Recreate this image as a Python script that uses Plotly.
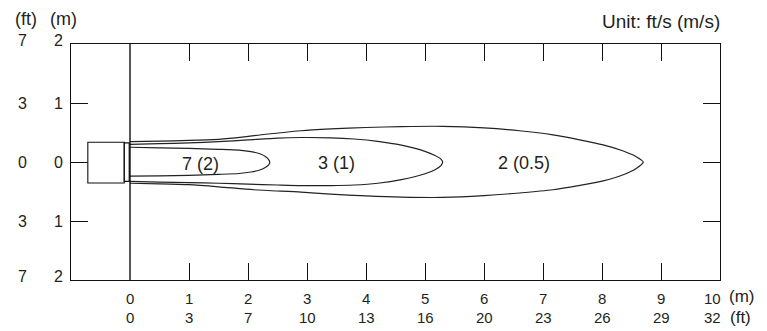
import plotly.graph_objects as go

# ---------------- data ----------------
# horizontal distance ticks (m) and their ft equivalents
x_m_ticks = [0, 1, 2, 3, 4, 5, 6, 7, 8, 9, 10]
x_ft_labels = ["0", "3", "7", "10", "13", "16", "20", "23", "26", "29", "32"]
# vertical distance ticks (m) and labels
y_m_ticks = [2, 1, 0, -1, -2]
y_m_labels = ["2", "1", "0", "1", "2"]
y_ft_labels = ["7", "3", "0", "3", "7"]

# air-velocity contours (x in m, y in m): upper edge and lower edge
c7_upper_x = [0.0, 0.5, 1.0, 1.5, 1.85, 2.05, 2.2, 2.3, 2.35, 2.37]
c7_upper_y = [0.25, 0.24, 0.23, 0.215, 0.20, 0.175, 0.14, 0.09, 0.04, -0.01]
c7_lower_x = [0.0, 0.5, 1.0, 1.5, 1.85, 2.05, 2.2, 2.3, 2.35]
c7_lower_y = [-0.24, -0.235, -0.225, -0.21, -0.195, -0.17, -0.135, -0.09, -0.05]

c3_upper_x = [0.0, 0.5, 1.0, 1.5, 2.0, 2.5, 2.9, 3.4, 3.8, 4.2, 4.6, 5.0, 5.17, 5.27, 5.30]
c3_upper_y = [0.30, 0.31, 0.325, 0.345, 0.375, 0.405, 0.415, 0.41, 0.39, 0.35, 0.285, 0.18, 0.11, 0.05, 0.0]
c3_lower_x = [0.0, 0.5, 1.0, 1.5, 2.0, 2.5, 2.9, 3.4, 3.8, 4.2, 4.6, 5.0, 5.17, 5.27]
c3_lower_y = [-0.33, -0.34, -0.35, -0.36, -0.375, -0.39, -0.40, -0.40, -0.39, -0.36, -0.30, -0.20, -0.13, -0.06]

c2_upper_x = [0.0, 0.5, 1.0, 1.5, 1.9, 2.3, 2.9, 3.4, 4.0, 4.6, 5.3, 6.0, 6.6, 7.17, 7.6, 8.02, 8.35, 8.58, 8.70]
c2_upper_y = [0.345, 0.355, 0.365, 0.385, 0.42, 0.47, 0.53, 0.56, 0.585, 0.60, 0.605, 0.58, 0.53, 0.46, 0.38, 0.29, 0.19, 0.09, 0.0]
c2_lower_x = [0.0, 0.5, 1.0, 1.5, 2.1, 2.9, 3.4, 4.0, 4.6, 5.3, 6.0, 6.6, 7.17, 7.6, 8.02, 8.35, 8.58]
c2_lower_y = [-0.36, -0.37, -0.385, -0.42, -0.47, -0.51, -0.545, -0.575, -0.595, -0.60, -0.57, -0.525, -0.47, -0.40, -0.32, -0.22, -0.11]

contour_labels = ["7 (2)", "3 (1)", "2 (0.5)"]
contour_label_x = [1.2, 3.5, 6.68]
contour_label_y = [-0.03, -0.02, -0.02]

# indoor unit outline (m)
unit_x = [-0.715, -0.097]
unit_y = [-0.355, 0.335]
grille_x = [-0.097, -0.012]
grille_y = [-0.33, 0.325]

# ---------------- figure ----------------
FONT = "Liberation Sans, Arial, Helvetica, sans-serif"
TXT = "#231f20"
LINE = "#222222"

fig = go.Figure()

for ux, uy, lx, ly in [
    (c7_upper_x, c7_upper_y, c7_lower_x, c7_lower_y),
    (c3_upper_x, c3_upper_y, c3_lower_x, c3_lower_y),
    (c2_upper_x, c2_upper_y, c2_lower_x, c2_lower_y),
]:
    xs = list(ux) + list(reversed(lx))
    ys = list(uy) + list(reversed(ly))
    fig.add_trace(go.Scatter(
        x=xs, y=ys, mode="lines",
        line=dict(color=LINE, width=1.2, shape="spline", smoothing=0.7),
        hoverinfo="skip", showlegend=False,
    ))

# wall line at x = 0
fig.add_shape(type="line", x0=0, x1=0, y0=-2, y1=2, xref="x", yref="y",
              line=dict(color="#111", width=1.4))
# indoor unit
fig.add_shape(type="rect", x0=unit_x[0], x1=unit_x[1], y0=unit_y[0], y1=unit_y[1],
              xref="x", yref="y", line=dict(color="#111", width=1.1), fillcolor="white")
fig.add_shape(type="rect", x0=grille_x[0], x1=grille_x[1], y0=grille_y[0], y1=grille_y[1],
              xref="x", yref="y", line=dict(color="#111", width=1.3), fillcolor="white")

# contour labels
for t, lx, ly in zip(contour_labels, contour_label_x, contour_label_y):
    fig.add_annotation(x=lx, y=ly, xref="x", yref="y", text=t, showarrow=False,
                       font=dict(family=FONT, size=18, color=TXT))

# y-axis labels (m column and ft column)
for v, ml, fl in zip(y_m_ticks, y_m_labels, y_ft_labels):
    ys = 4 if abs(v) == 2 else 0
    fig.add_annotation(x=0, y=v, xref="paper", yref="y", text=ml, showarrow=False,
                       xanchor="center", yanchor="middle", xshift=-13, yshift=ys,
                       font=dict(family=FONT, size=16, color=TXT))
    fig.add_annotation(x=0, y=v, xref="paper", yref="y", text=fl, showarrow=False,
                       xanchor="center", yanchor="middle", xshift=-49, yshift=ys,
                       font=dict(family=FONT, size=16, color=TXT))
fig.add_annotation(x=0, y=1, xref="paper", yref="paper", text="(ft)", showarrow=False,
                   xanchor="center", yanchor="middle", xshift=-45, yshift=25,
                   font=dict(family=FONT, size=18, color=TXT))
fig.add_annotation(x=0, y=1, xref="paper", yref="paper", text="(m)", showarrow=False,
                   xanchor="center", yanchor="middle", xshift=-8, yshift=25,
                   font=dict(family=FONT, size=18, color=TXT))

# x-axis labels (m row and ft row)
for v, fl in zip(x_m_ticks, x_ft_labels):
    xs = -8 if v == 10 else 0
    fig.add_annotation(x=v, y=0, xref="x", yref="paper", text=str(v), showarrow=False,
                       xanchor="center", yanchor="middle", xshift=xs, yshift=-18,
                       font=dict(family=FONT, size=15, color=TXT))
    fig.add_annotation(x=v, y=0, xref="x", yref="paper", text=fl, showarrow=False,
                       xanchor="center", yanchor="middle", xshift=xs, yshift=-37,
                       font=dict(family=FONT, size=15, color=TXT))
fig.add_annotation(x=1, y=0, xref="paper", yref="paper", text="(m)", showarrow=False,
                   xanchor="left", yanchor="middle", xshift=7, yshift=-16,
                   font=dict(family=FONT, size=17, color=TXT))
fig.add_annotation(x=1, y=0, xref="paper", yref="paper", text="(ft)", showarrow=False,
                   xanchor="left", yanchor="middle", xshift=8, yshift=-37,
                   font=dict(family=FONT, size=17, color=TXT))

fig.add_annotation(x=1, y=1, xref="paper", yref="paper", text="Unit: ft/s (m/s)",
                   showarrow=False, xanchor="right", yanchor="middle", yshift=23, xshift=2,
                   font=dict(family=FONT, size=19, color=TXT))

axis_common = dict(
    showgrid=False, zeroline=False, showticklabels=False,
    ticks="inside", ticklen=17, tickwidth=1.1, tickcolor="#111",
    showline=True, linecolor="#111", linewidth=1.1, mirror="ticks",
)
fig.update_xaxes(range=[-1, 10], tickvals=[1, 2, 3, 4, 5, 6, 7, 8, 9], **axis_common)
fig.update_yaxes(range=[-2, 2], tickvals=[-1, 0, 1], **axis_common)

fig.update_layout(
    width=767, height=331,
    margin=dict(l=71, r=47, t=44, b=51),
    paper_bgcolor="white", plot_bgcolor="white",
    showlegend=False,
)

fig.write_html("out.html")
